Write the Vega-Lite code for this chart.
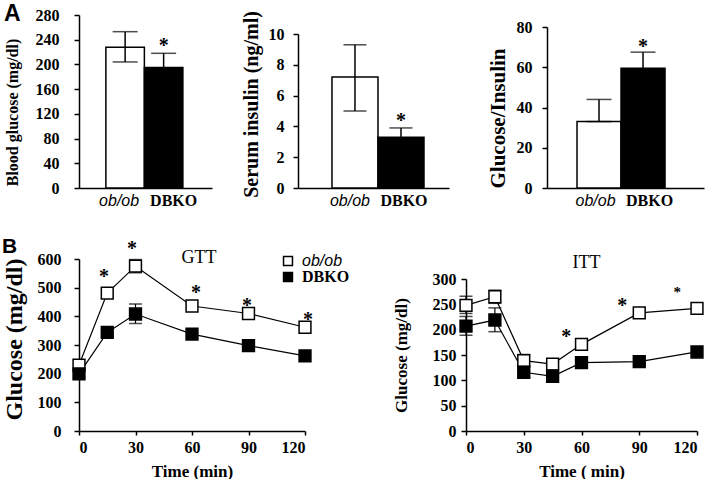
{
  "$schema": "https://vega.github.io/schema/vega-lite/v6.json",
  "background": "white",
  "padding": {"left": 2, "top": 3, "right": 0, "bottom": 0},
  "config": {
    "view": {"stroke": null},
    "font": "Liberation Serif",
    "axis": {
      "labelFont": "Liberation Serif", "labelFontWeight": "bold", "labelColor": "black",
      "titleFont": "Liberation Serif", "titleFontWeight": "bold", "titleColor": "black",
      "domainColor": "black", "tickColor": "black", "domainWidth": 1.5, "tickWidth": 1.5, "grid": false, "labelOverlap": false
    },
    "title": {"font": "Liberation Sans", "fontWeight": "bold", "color": "black"}
  },
  "resolve": {"scale": {"fill": "independent"}, "legend": {"fill": "independent"}},
  "spacing": 27,
  "vconcat": [
    {
      "title": {"text": "A", "anchor": "start", "fontSize": 23, "offset": -19},
      "bounds": "flush",
      "spacing": 86,
      "resolve": {"scale": {"fill": "independent"}, "legend": {"fill": "independent"}},
      "hconcat": [
        {
          "width": 133, "height": 173,
          "resolve": {"axis": {"y": "independent"}},
          "data": {"values": [
            {"group": "ob/ob", "mean": 228, "lo": 204, "hi": 253},
            {"group": "DBKO", "mean": 195, "lo": 172, "hi": 218}
          ]},
          "encoding": {"x": {"field": "group", "type": "nominal", "sort": ["ob/ob", "DBKO"],
            "scale": {"paddingInner": 0, "paddingOuter": 0.727, "align": 0.48},
            "axis": {"title": null, "ticks": false, "labelAngle": 0, "labelPadding": 4, "labelFontSize": 16, "labelColor": "black",
              "labelFont": {"condition": {"test": "datum.value === 'ob/ob'", "value": "Liberation Sans"}, "value": "Liberation Serif"},
              "labelFontStyle": {"condition": {"test": "datum.value === 'ob/ob'", "value": "italic"}, "value": "normal"},
              "labelFontWeight": {"condition": {"test": "datum.value === 'ob/ob'", "value": "normal"}, "value": "bold"},
              "labelOffset": {"condition": {"test": "datum.value === 'ob/ob'", "value": -6}, "value": 10}}}},
          "layer": [
            {"mark": {"type": "bar", "stroke": "black", "strokeWidth": 1.5},
             "encoding": {
               "y": {"field": "mean", "type": "quantitative", "title": "Blood glucose (mg/dl)", "scale": {"domain": [0, 280]},
                 "axis": {"orient": "left", "values": [0, 40, 80, 120, 160, 200, 240, 280], "labelFont": "Liberation Serif", "labelFontWeight": "bold", "labelColor": "black", "labelOverlap": false, "labelFontSize": 16, "labelPadding": 15, "tickSize": 5, "titleFontSize": 16, "titlePadding": 15, "titleY": 97}},
               "fill": {"field": "group", "type": "nominal", "scale": {"domain": ["ob/ob", "DBKO"], "range": ["white", "black"]}, "legend": null}}},
            {"mark": {"type": "rule", "color": "black", "strokeWidth": 1.5},
             "encoding": {"y": {"field": "lo", "type": "quantitative", "axis": null}, "y2": {"field": "hi"}}},
            {"mark": {"type": "tick", "orient": "horizontal", "color": "black", "thickness": 1.5, "size": 25},
             "encoding": {"y": {"field": "hi", "type": "quantitative", "axis": null}}},
            {"mark": {"type": "tick", "orient": "horizontal", "color": "black", "thickness": 1.5, "size": 25},
             "encoding": {"y": {"field": "lo", "type": "quantitative", "axis": null}}},
            {"data": {"values": [{"group": "DBKO", "value": 237, "label": "*"}]},
             "mark": {"type": "text", "font": "Liberation Serif", "fontWeight": "bold", "fontSize": 20, "baseline": "alphabetic", "dy": 10, "fill": "black"},
             "encoding": {"y": {"field": "value", "type": "quantitative", "axis": null}, "text": {"field": "label"}}}
          ]
        },
        {
          "width": 163, "height": 173,
          "resolve": {"axis": {"y": "independent"}},
          "data": {"values": [
            {"group": "ob/ob", "mean": 7.2, "lo": 5.0, "hi": 9.3},
            {"group": "DBKO", "mean": 3.3, "lo": 2.7, "hi": 3.9}
          ]},
          "encoding": {"x": {"field": "group", "type": "nominal", "sort": ["ob/ob", "DBKO"],
            "scale": {"range": [0, 151], "paddingInner": 0, "paddingOuter": 0.641, "align": 0.576},
            "axis": {"title": null, "ticks": false, "labelAngle": 0, "labelPadding": 4, "labelFontSize": 16, "labelColor": "black",
              "labelFont": {"condition": {"test": "datum.value === 'ob/ob'", "value": "Liberation Sans"}, "value": "Liberation Serif"},
              "labelFontStyle": {"condition": {"test": "datum.value === 'ob/ob'", "value": "italic"}, "value": "normal"},
              "labelFontWeight": {"condition": {"test": "datum.value === 'ob/ob'", "value": "normal"}, "value": "bold"},
              "labelOffset": {"condition": {"test": "datum.value === 'ob/ob'", "value": -5}, "value": 3}}}},
          "layer": [
            {"mark": {"type": "bar", "stroke": "black", "strokeWidth": 1.5},
             "encoding": {
               "y": {"field": "mean", "type": "quantitative", "title": "Serum insulin (ng/ml)", "scale": {"domain": [0, 10], "range": [173, 19]},
                 "axis": {"orient": "left", "values": [0, 2, 4, 6, 8, 10], "labelFont": "Liberation Serif", "labelFontWeight": "bold", "labelColor": "black", "labelOverlap": false, "labelFontSize": 16, "labelPadding": 9, "tickSize": 5, "titleFontSize": 20, "titlePadding": 7, "titleY": 89}},
               "fill": {"field": "group", "type": "nominal", "scale": {"domain": ["ob/ob", "DBKO"], "range": ["white", "black"]}, "legend": null}}},
            {"mark": {"type": "rule", "color": "black", "strokeWidth": 1.5},
             "encoding": {"y": {"field": "lo", "type": "quantitative", "axis": null}, "y2": {"field": "hi"}}},
            {"mark": {"type": "tick", "orient": "horizontal", "color": "black", "thickness": 1.5, "size": 23},
             "encoding": {"y": {"field": "hi", "type": "quantitative", "axis": null}}},
            {"mark": {"type": "tick", "orient": "horizontal", "color": "black", "thickness": 1.5, "size": 23},
             "encoding": {"y": {"field": "lo", "type": "quantitative", "axis": null}}},
            {"data": {"values": [{"group": "DBKO", "value": 4.63, "label": "*"}]},
             "mark": {"type": "text", "font": "Liberation Serif", "fontWeight": "bold", "fontSize": 20, "baseline": "alphabetic", "dy": 10, "fill": "black"},
             "encoding": {"y": {"field": "value", "type": "quantitative", "axis": null}, "text": {"field": "label"}}}
          ]
        },
        {
          "width": 157, "height": 173,
          "resolve": {"axis": {"y": "independent"}},
          "data": {"values": [
            {"group": "ob/ob", "mean": 33, "lo": 33, "hi": 44},
            {"group": "DBKO", "mean": 59.5, "lo": 52, "hi": 67.5}
          ]},
          "encoding": {"x": {"field": "group", "type": "nominal", "sort": ["ob/ob", "DBKO"],
            "scale": {"paddingInner": 0, "paddingOuter": 0.784, "align": 0.435},
            "axis": {"title": null, "ticks": false, "labelAngle": 0, "labelPadding": 4, "labelFontSize": 16, "labelColor": "black",
              "labelFont": {"condition": {"test": "datum.value === 'ob/ob'", "value": "Liberation Sans"}, "value": "Liberation Serif"},
              "labelFontStyle": {"condition": {"test": "datum.value === 'ob/ob'", "value": "italic"}, "value": "normal"},
              "labelFontWeight": {"condition": {"test": "datum.value === 'ob/ob'", "value": "normal"}, "value": "bold"},
              "labelOffset": {"condition": {"test": "datum.value === 'ob/ob'", "value": -3.5}, "value": 6.5}}}},
          "layer": [
            {"mark": {"type": "bar", "stroke": "black", "strokeWidth": 1.5},
             "encoding": {
               "y": {"field": "mean", "type": "quantitative", "title": "Glucose/Insulin", "scale": {"domain": [0, 80], "range": [173, 12]},
                 "axis": {"orient": "left", "values": [0, 20, 40, 60, 80], "labelFont": "Liberation Serif", "labelFontWeight": "bold", "labelColor": "black", "labelOverlap": false, "labelFontSize": 16, "labelPadding": 10, "tickSize": 5, "titleFontSize": 21, "titlePadding": 8, "titleY": 103}},
               "fill": {"field": "group", "type": "nominal", "scale": {"domain": ["ob/ob", "DBKO"], "range": ["white", "black"]}, "legend": null}}},
            {"mark": {"type": "rule", "color": "black", "strokeWidth": 1.5},
             "encoding": {"y": {"field": "lo", "type": "quantitative", "axis": null}, "y2": {"field": "hi"}}},
            {"mark": {"type": "tick", "orient": "horizontal", "color": "black", "thickness": 1.5, "size": 25},
             "encoding": {"y": {"field": "hi", "type": "quantitative", "axis": null}}},
            {"mark": {"type": "tick", "orient": "horizontal", "color": "black", "thickness": 1.5, "size": 25},
             "encoding": {"y": {"field": "lo", "type": "quantitative", "axis": null}}},
            {"data": {"values": [{"group": "DBKO", "value": 72, "label": "*"}]},
             "mark": {"type": "text", "font": "Liberation Serif", "fontWeight": "bold", "fontSize": 20, "baseline": "alphabetic", "dy": 10, "fill": "black"},
             "encoding": {"y": {"field": "value", "type": "quantitative", "axis": null}, "text": {"field": "label"}}}
          ]
        }
      ]
    },
    {
      "title": {"text": "B", "anchor": "start", "fontSize": 21, "offset": -18},
      "bounds": "flush",
      "spacing": 161,
      "resolve": {"scale": {"fill": "independent"}, "legend": {"fill": "independent"}},
      "hconcat": [
        {
          "width": 226, "height": 172,
          "resolve": {"axis": {"y": "independent"}},
          "title": {"text": "GTT", "font": "Liberation Serif", "fontWeight": "normal", "fontSize": 18, "offset": -28, "dx": 7},
          "encoding": {
            "x": {"field": "time", "type": "quantitative", "title": "Time (min)", "scale": {"domain": [0, 120], "nice": false},
              "axis": {"values": [0, 30, 60, 90, 120], "labelFont": "Liberation Serif", "labelFontWeight": "bold", "labelColor": "black", "labelOverlap": false, "labelFontSize": 16, "labelPadding": 4, "tickSize": 4, "titleFontSize": 17, "titlePadding": 8}}
          },
          "layer": [
            {"data": {"values": [
              {"group": "ob/ob", "time": 30, "lo": 552, "hi": 598},
              {"group": "DBKO", "time": 30, "lo": 375, "hi": 443}
            ]},
             "resolve": {"axis": {"y": "independent"}},
             "layer": [
               {"mark": {"type": "rule", "color": "black", "strokeWidth": 1.2},
                "encoding": {"y": {"field": "lo", "type": "quantitative", "axis": null}, "y2": {"field": "hi"}}},
               {"mark": {"type": "tick", "orient": "horizontal", "color": "black", "thickness": 1.5, "size": 13},
                "encoding": {"y": {"field": "hi", "type": "quantitative", "axis": null}}},
               {"mark": {"type": "tick", "orient": "horizontal", "color": "black", "thickness": 1.5, "size": 13},
                "encoding": {"y": {"field": "lo", "type": "quantitative", "axis": null}}}
             ]},
            {"data": {"values": [
              {"group": "ob/ob", "time": 0, "glucose": 230},
              {"group": "ob/ob", "time": 15, "glucose": 481},
              {"group": "ob/ob", "time": 30, "glucose": 575},
              {"group": "ob/ob", "time": 60, "glucose": 436},
              {"group": "ob/ob", "time": 90, "glucose": 410},
              {"group": "ob/ob", "time": 120, "glucose": 362},
              {"group": "DBKO", "time": 0, "glucose": 199},
              {"group": "DBKO", "time": 15, "glucose": 344},
              {"group": "DBKO", "time": 30, "glucose": 408},
              {"group": "DBKO", "time": 60, "glucose": 338},
              {"group": "DBKO", "time": 90, "glucose": 298},
              {"group": "DBKO", "time": 120, "glucose": 262}
            ]},
             "resolve": {"axis": {"y": "independent"}},
             "layer": [
               {"mark": {"type": "line", "color": "black", "strokeWidth": 1.2},
                "encoding": {"y": {"field": "glucose", "type": "quantitative", "title": "Glucose (mg/dl)", "scale": {"domain": [0, 600], "nice": false},
                  "axis": {"orient": "left", "values": [0, 100, 200, 300, 400, 500, 600], "labelFont": "Liberation Serif", "labelFontWeight": "bold", "labelColor": "black", "labelOverlap": false, "labelFontSize": 16, "labelPadding": 13, "tickSize": 5, "titleFontSize": 24, "titlePadding": 11, "titleY": 80}},
                  "detail": {"field": "group"}}},
               {"mark": {"type": "point", "shape": "square", "size": 140, "filled": true, "opacity": 1, "stroke": "black", "strokeWidth": 1.5},
                "encoding": {"y": {"field": "glucose", "type": "quantitative", "axis": null},
                  "fill": {"field": "group", "type": "nominal", "scale": {"domain": ["ob/ob", "DBKO"], "range": ["white", "black"]},
                    "legend": {"orient": "none", "legendX": 201, "legendY": -6, "title": null, "padding": 0, "symbolType": "square", "symbolSize": 80,
                      "symbolStrokeColor": "black", "symbolStrokeWidth": 1.5, "labelFontSize": 16, "labelColor": "black", "labelOffset": 6, "rowPadding": 0,
                      "labelFont": {"expr": "datum.label === 'ob/ob' ? 'Liberation Sans' : 'Liberation Serif'"},
                      "labelFontStyle": {"expr": "datum.label === 'ob/ob' ? 'italic' : 'normal'"},
                      "labelFontWeight": {"expr": "datum.label === 'ob/ob' ? 'normal' : 'bold'"}}}}}
             ]},
            {"data": {"values": [
              {"time": 13.3, "glucose": 551, "label": "*"},
              {"time": 28.1, "glucose": 649, "label": "*"},
              {"time": 62.1, "glucose": 495, "label": "*"},
              {"time": 89.2, "glucose": 450, "label": "*"},
              {"time": 121.6, "glucose": 401, "label": "*"}
            ]},
             "mark": {"type": "text", "font": "Liberation Serif", "fontWeight": "bold", "fontSize": 20, "baseline": "alphabetic", "dy": 10, "fill": "black"},
             "encoding": {"y": {"field": "glucose", "type": "quantitative", "axis": null}, "text": {"field": "label"}}}
          ]
        },
        {
          "width": 231, "height": 172,
          "resolve": {"axis": {"y": "independent"}},
          "title": {"text": "ITT", "font": "Liberation Serif", "fontWeight": "normal", "fontSize": 18, "offset": -13, "dx": 5},
          "encoding": {
            "x": {"field": "time", "type": "quantitative", "title": "Time ( min)", "scale": {"domain": [0, 120], "nice": false},
              "axis": {"values": [0, 30, 60, 90, 120], "labelFont": "Liberation Serif", "labelFontWeight": "bold", "labelColor": "black", "labelOverlap": false, "labelFontSize": 16, "labelPadding": 4, "tickSize": 4, "titleFontSize": 17, "titlePadding": 8}}
          },
          "layer": [
            {"data": {"values": [
              {"group": "ob/ob", "time": 0, "lo": 232, "hi": 266},
              {"group": "DBKO", "time": 0, "lo": 189, "hi": 226},
              {"group": "ob/ob", "time": 15, "lo": 252, "hi": 278},
              {"group": "DBKO", "time": 15, "lo": 196, "hi": 243},
              {"group": "ob/ob", "time": 30, "lo": 127, "hi": 151},
              {"group": "DBKO", "time": 30, "lo": 105, "hi": 128}
            ]},
             "resolve": {"axis": {"y": "independent"}},
             "layer": [
               {"mark": {"type": "rule", "color": "black", "strokeWidth": 1.2},
                "encoding": {"y": {"field": "lo", "type": "quantitative", "axis": null}, "y2": {"field": "hi"}}},
               {"mark": {"type": "tick", "orient": "horizontal", "color": "black", "thickness": 1.5, "size": 13},
                "encoding": {"y": {"field": "hi", "type": "quantitative", "axis": null}}},
               {"mark": {"type": "tick", "orient": "horizontal", "color": "black", "thickness": 1.5, "size": 13},
                "encoding": {"y": {"field": "lo", "type": "quantitative", "axis": null}}}
             ]},
            {"data": {"values": [
              {"group": "ob/ob", "time": 0, "glucose": 248},
              {"group": "ob/ob", "time": 15, "glucose": 265},
              {"group": "ob/ob", "time": 30, "glucose": 139},
              {"group": "ob/ob", "time": 45, "glucose": 132},
              {"group": "ob/ob", "time": 60, "glucose": 171},
              {"group": "ob/ob", "time": 90, "glucose": 233},
              {"group": "ob/ob", "time": 120, "glucose": 242},
              {"group": "DBKO", "time": 0, "glucose": 207},
              {"group": "DBKO", "time": 15, "glucose": 219},
              {"group": "DBKO", "time": 30, "glucose": 116},
              {"group": "DBKO", "time": 45, "glucose": 108},
              {"group": "DBKO", "time": 60, "glucose": 135},
              {"group": "DBKO", "time": 90, "glucose": 137},
              {"group": "DBKO", "time": 120, "glucose": 156}
            ]},
             "resolve": {"axis": {"y": "independent"}},
             "layer": [
               {"mark": {"type": "line", "color": "black", "strokeWidth": 1.2},
                "encoding": {"y": {"field": "glucose", "type": "quantitative", "title": "Glucose (mg/dl)", "scale": {"domain": [0, 300], "range": [172, 20], "nice": false},
                  "axis": {"orient": "left", "values": [0, 50, 100, 150, 200, 250, 300], "labelFont": "Liberation Serif", "labelFontWeight": "bold", "labelColor": "black", "labelOverlap": false, "labelFontSize": 16, "labelPadding": 5, "tickSize": 5, "titleFontSize": 17, "titlePadding": 22}},
                  "detail": {"field": "group"}}},
               {"mark": {"type": "point", "shape": "square", "size": 140, "filled": true, "opacity": 1, "stroke": "black", "strokeWidth": 1.5},
                "encoding": {"y": {"field": "glucose", "type": "quantitative", "axis": null},
                  "fill": {"field": "group", "type": "nominal", "scale": {"domain": ["ob/ob", "DBKO"], "range": ["white", "black"]}, "legend": null}}}
             ]},
            {"data": {"values": [
              {"time": 52.1, "glucose": 193, "label": "*"},
              {"time": 81.2, "glucose": 255, "label": "*"}
            ]},
             "mark": {"type": "text", "font": "Liberation Serif", "fontWeight": "bold", "fontSize": 20, "baseline": "alphabetic", "dy": 10, "fill": "black"},
             "encoding": {"y": {"field": "glucose", "type": "quantitative", "axis": null}, "text": {"field": "label"}}},
            {"data": {"values": [
              {"time": 109.8, "glucose": 278, "label": "*"}
            ]},
             "mark": {"type": "text", "font": "Liberation Serif", "fontWeight": "bold", "fontSize": 15, "baseline": "alphabetic", "dy": 7, "fill": "black"},
             "encoding": {"y": {"field": "glucose", "type": "quantitative", "axis": null}, "text": {"field": "label"}}}
          ]
        }
      ]
    }
  ]
}
